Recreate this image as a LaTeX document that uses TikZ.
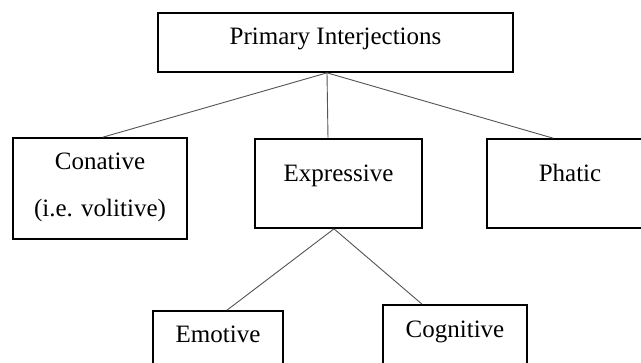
\documentclass[tikz,border=0pt]{standalone}
\usepackage{fontspec}
\setmainfont{Liberation Serif}

\definecolor{strokecol}{rgb}{0,0,0}
\definecolor{linkcol}{rgb}{0.33,0.33,0.33}

\begin{document}
\begin{tikzpicture}[x=1pt, y=-1pt,
    box/.style={draw=strokecol, line width=1.7pt, inner sep=0pt, align=center,
        font=\fontsize{25}{47}\selectfont, anchor=base},
    link/.style={draw=linkcol, line width=0.9pt}]

    % page frame
    \clip (0,0) rectangle (641,363);
    \fill[white] (0,0) rectangle (641,363);

    % top level
    \node[box, minimum width=355pt, text height=32pt, text depth=27pt] (primary) at (335.5,45) {Primary Interjections};

    % second level (two-line box sits on its last line)
    \node[box, minimum width=174pt, text height=79pt, text depth=22pt] (conative) at (100,217) {Conative\\(i.e. volitive)};
    \node[box, minimum width=167pt, text height=43pt, text depth=46pt] (expressive) at (338.5,182) {Expressive};
    \node[box, minimum width=166pt, text height=43pt, text depth=46pt] (phatic) at (570,182) {Phatic};

    % third level
    \node[box, minimum width=130pt, text height=31.5pt, text depth=45pt] (emotive) at (218,342.5) {Emotive};
    \node[box, minimum width=144pt, text height=33pt, text depth=45pt] (cognitive) at (455,338) {Cognitive};

    % links
    \draw[link] ([xshift=-8.5pt]primary.south) -- ([xshift=3pt]conative.north);
    \draw[link] ([xshift=-8.5pt]primary.south) -- ([xshift=-10.5pt]expressive.north);
    \draw[link] ([xshift=-8.5pt]primary.south) -- ([xshift=-17pt]phatic.north);

    \draw[link] ([xshift=-4.5pt]expressive.south) -- ([xshift=9pt]emotive.north);
    \draw[link] ([xshift=-4.5pt]expressive.south) -- ([xshift=-33pt]cognitive.north);
\end{tikzpicture}
\end{document}
